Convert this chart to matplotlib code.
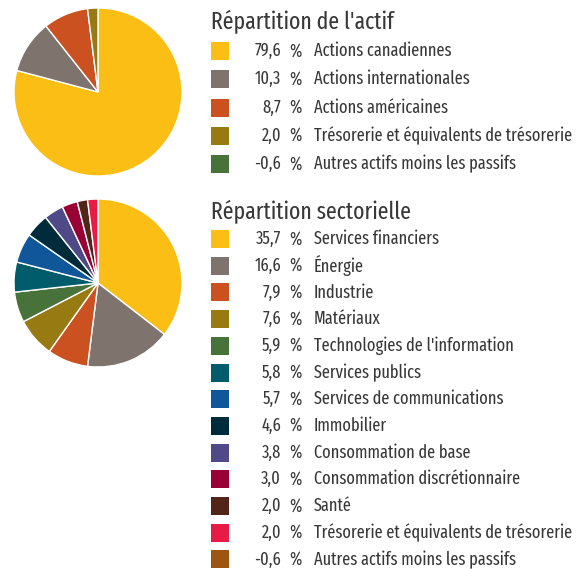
import matplotlib.pyplot as plt
from matplotlib.patches import Rectangle

plt.rcParams['font.family'] = ['Fira Sans Extra Condensed', 'Fira Sans Condensed',
                               'PT Sans Narrow', 'Asap Condensed', 'DejaVu Sans']

# Répartition de l'actif
actif_labels = [
    "Actions canadiennes",
    "Actions internationales",
    "Actions américaines",
    "Trésorerie et équivalents de trésorerie",
    "Autres actifs moins les passifs",
]
actif_values = [79.6, 10.3, 8.7, 2.0, -0.6]
actif_colors = ["#FBBE14", "#7E736D", "#CB5121", "#987A12", "#47723A"]

# Répartition sectorielle
secteur_labels = [
    "Services financiers",
    "Énergie",
    "Industrie",
    "Matériaux",
    "Technologies de l'information",
    "Services publics",
    "Services de communications",
    "Immobilier",
    "Consommation de base",
    "Consommation discrétionnaire",
    "Santé",
    "Trésorerie et équivalents de trésorerie",
    "Autres actifs moins les passifs",
]
secteur_values = [35.7, 16.6, 7.9, 7.6, 5.9, 5.8, 5.7, 4.6, 3.8, 3.0, 2.0, 2.0, -0.6]
secteur_colors = ["#FBBE14", "#7E736D", "#CB5121", "#987A12", "#47723A", "#005B6B",
                  "#0F5798", "#002B3B", "#4F4A87", "#990036", "#532419", "#E71B45",
                  "#9E5512"]

W, H = 580, 569
fig = plt.figure(figsize=(W / 100, H / 100), dpi=100)
ax = fig.add_axes([0, 0, 1, 1])
TXT = "#383838"


def block(values, labels, colors, title, pie_y, title_y, row0, step):
    # only positive values go in the pie
    pos = [(v, c) for v, c in zip(values, colors) if v > 0]
    ax.pie([p[0] for p in pos], colors=[p[1] for p in pos], center=(98, H - pie_y),
           radius=84, startangle=90, counterclock=False, frame=True,
           wedgeprops=dict(edgecolor="white", linewidth=1))
    ax.text(211, H - title_y, title, fontsize=17, color=TXT, va="center", ha="left")
    for i, (v, lab, col) in enumerate(zip(values, labels, colors)):
        y = H - (row0 + i * step)
        ax.add_patch(Rectangle((211, y - 9), 18, 18, color=col, lw=0))
        ax.text(281, y, f"{v:.1f}".replace(".", ","), fontsize=12.8, color=TXT,
                va="center", ha="right")
        ax.text(289, y, "%", fontsize=12.8, color=TXT, va="center", ha="left")
        ax.text(314, y, lab, fontsize=12.8, color=TXT, va="center", ha="left")


block(actif_values, actif_labels, actif_colors, "Répartition de l'actif", 92, 22, 51, 28.3)
block(secteur_values, secteur_labels, secteur_colors, "Répartition sectorielle", 283, 212, 239, 26.7)

ax.set_xlim(0, W)
ax.set_ylim(0, H)
ax.set_aspect("equal")
ax.axis("off")

fig.savefig("out.png", dpi=100)
